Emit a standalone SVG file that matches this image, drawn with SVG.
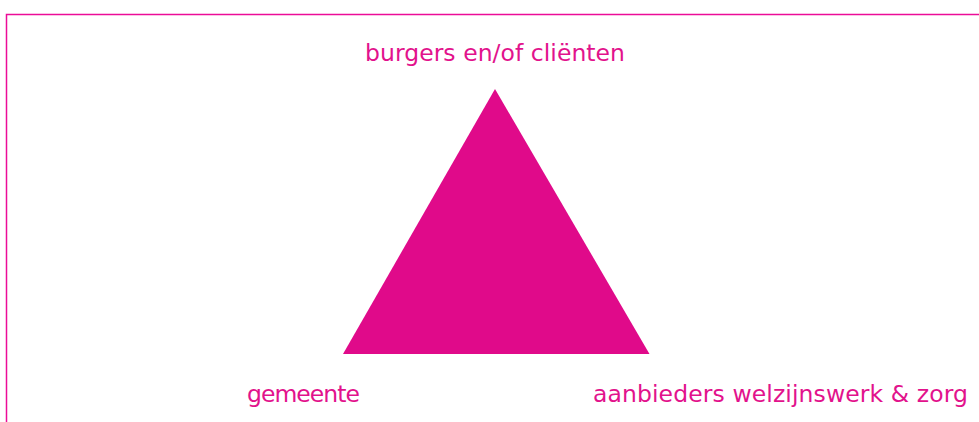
<svg xmlns="http://www.w3.org/2000/svg" width="979" height="422" viewBox="0 0 979 422">
  <style>
    .frame { fill: none; stroke: #ec0c98; stroke-width: 1.5; }
    .lbl { font-family: "DejaVu Sans", "Liberation Sans", sans-serif; font-size: 23.5px; fill: #e2128c; }
    .tri { fill: #e00a8a; }
  </style>
  <rect width="979" height="422" fill="#ffffff"/>
  <g id="frame">
    <polyline class="frame" points="6.5,422 6.5,14.5 979,14.5"/>
  </g>
  <g id="triangle">
    <polygon class="tri" points="495,89 649.5,354 343,354"/>
  </g>
  <g id="connectors"></g>
  <g id="node-burgers">
    <text class="lbl" x="365" y="61" textLength="260">burgers en/of cliënten</text>
  </g>
  <g id="node-gemeente">
    <text class="lbl" x="247" y="402" textLength="113">gemeente</text>
  </g>
  <g id="node-aanbieders">
    <text class="lbl" x="593" y="402" textLength="375">aanbieders welzijnswerk &amp; zorg</text>
  </g>
</svg>
